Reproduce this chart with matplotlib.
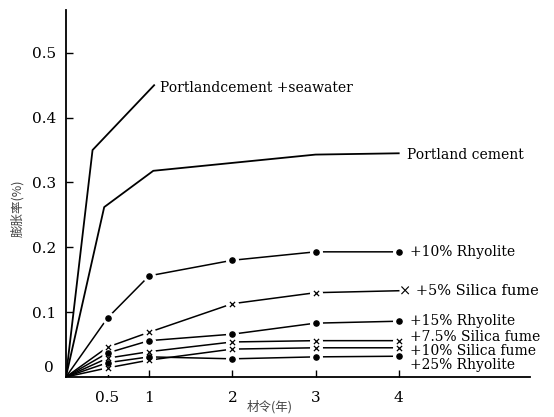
import matplotlib.pyplot as plt

plt.rcParams['font.family'] = ['DejaVu Serif']

# 龄期 (年)
t_sea = [0, 0.32, 1.06]
sea = [0, 0.35, 0.45]
t_pc = [0, 0.46, 1.05, 3.0, 4.0]
pc = [0, 0.262, 0.318, 0.343, 0.345]

t = [0, 0.5, 1, 2, 3, 4]
rhy10 = [0, 0.091, 0.156, 0.180, 0.193, 0.193]
sf5 = [0, 0.046, 0.069, 0.113, 0.130, 0.133]
rhy15 = [0, 0.037, 0.056, 0.066, 0.083, 0.086]
sf75 = [0, 0.029, 0.039, 0.054, 0.056, 0.056]
sf10 = [0, 0.014, 0.026, 0.043, 0.045, 0.045]
rhy25 = [0, 0.022, 0.031, 0.028, 0.031, 0.032]

xticks = [0.5, 1, 2, 3, 4]
yticks = [0.1, 0.2, 0.3, 0.4, 0.5]

fig = plt.figure(figsize=(5.54, 4.17), dpi=100)
ax = fig.add_axes([0.119, 0.096, 0.838, 0.880])

ax.plot(t_sea, sea, color='black', lw=1.3)
ax.plot(t_pc, pc, color='black', lw=1.3)

series = [(rhy10, 'o', True), (sf5, 'x', False), (rhy15, 'o', True),
          (sf75, 'x', True), (sf10, 'x', True), (rhy25, 'o', True)]
for ys, m, end in series:
    ax.plot(t, ys, color='black', lw=1.1, zorder=2)
    n = len(t) if end else len(t) - 1
    ax.scatter(t[1:n], ys[1:n], s=70, color='white', zorder=3)
    if m == 'o':
        ax.scatter(t[1:n], ys[1:n], s=14, color='black', marker='o', zorder=4)
    else:
        ax.scatter(t[1:n], ys[1:n], s=14, color='black', marker='x', lw=0.9, zorder=4)

ax.text(1.13, 0.445, 'Portlandcement +seawater', fontsize=10, va='center')
ax.text(4.1, 0.343, 'Portland cement', fontsize=10, va='center')
ax.text(4.13, 0.193, '+10% Rhyolite', fontsize=10, va='center')
ax.text(4.0, 0.133, '× +5% Silica fume', fontsize=10.5, va='center')
ax.text(4.13, 0.087, '+15% Rhyolite', fontsize=10, va='center')
ax.text(4.13, 0.061, '+7.5% Silica fume', fontsize=10, va='center')
ax.text(4.13, 0.040, '+10% Silica fume', fontsize=10, va='center')
ax.text(4.13, 0.019, '+25% Rhyolite', fontsize=10, va='center')

ax.set_xlim(0, 5.58)
ax.set_ylim(0, 0.566)
ax.set_xticks(xticks)
ax.set_xticklabels(['0.5', '1', '2', '3', '4'], fontsize=11)
ax.set_yticks(yticks)
ax.set_yticklabels(['0.1', '0.2', '0.3', '0.4', '0.5'], fontsize=11)
ax.tick_params(axis='y', direction='in', length=5, width=1, pad=7)
ax.tick_params(axis='x', direction='in', length=5, width=1, pad=10)
ax.text(-0.2, 0.014, '0', fontsize=11, va='center', ha='center')
for s in ['top', 'right']:
    ax.spines[s].set_visible(False)
for s in ['left', 'bottom']:
    ax.spines[s].set_linewidth(1.3)

fig.text(0.031, 0.5, '膨胀率(%)', rotation=90, fontsize=9, color='#444444',
         family=['Noto Sans CJK SC', 'DejaVu Sans'], ha='center', va='center')
fig.text(0.487, 0.025, '材令(年)', fontsize=9, color='#444444',
         family=['Noto Sans CJK SC', 'DejaVu Sans'], ha='center', va='center')

plt.savefig('out.png')
